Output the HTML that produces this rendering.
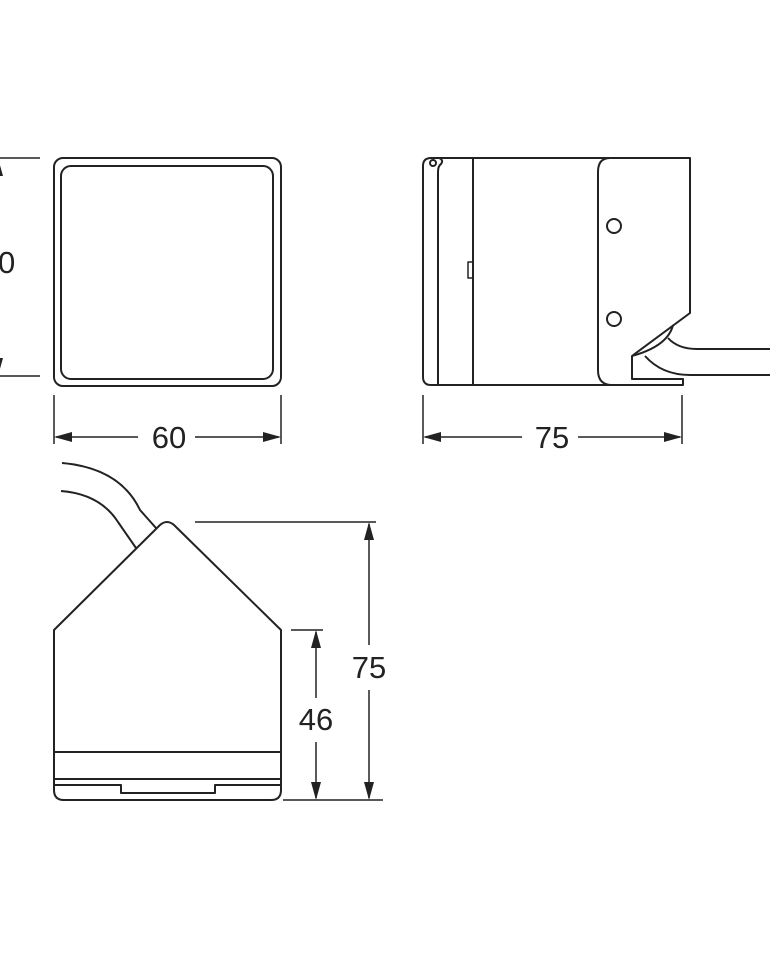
<!DOCTYPE html>
<html><head><style>
html,body{margin:0;padding:0;background:#fff;}
svg{display:block;}
text{font-family:"Liberation Sans",sans-serif;font-size:31px;fill:#222;}
</style></head><body>
<svg width="770" height="960" viewBox="0 0 770 960" xmlns="http://www.w3.org/2000/svg">
<g fill="none" stroke="#222" stroke-width="2" stroke-linejoin="round">
<!-- front view -->
<rect x="54" y="158" width="227" height="228" rx="9"/>
<rect x="61" y="166" width="212" height="213" rx="10"/>
<!-- left dim -->
<line x1="0" y1="158" x2="40" y2="158" stroke-width="1.5"/>
<line x1="0" y1="376" x2="40" y2="376" stroke-width="1.5"/>
<line x1="-2" y1="170" x2="-2" y2="240" stroke-width="1.5"/>
<line x1="-2" y1="285" x2="-2" y2="364" stroke-width="1.5"/>
<!-- 60 dim -->
<line x1="54" y1="395" x2="54" y2="444" stroke-width="1.5"/>
<line x1="281" y1="395" x2="281" y2="444" stroke-width="1.5"/>
<line x1="56" y1="437" x2="138" y2="437" stroke-width="1.5"/>
<line x1="195" y1="437" x2="279" y2="437" stroke-width="1.5"/>
<!-- side view -->
<path d="M431 158 L690 158 L690 313 L632 356 L632 379 L683 379 L683 385 L431 385 Q423 385 423 377 L423 166 Q423 158 431 158 Z"/>
<path d="M438 385 L438 172 Q438 166 441 164 Q444 160 439 158"/>
<circle cx="433" cy="163" r="3"/>
<line x1="473" y1="158" x2="473" y2="385"/>
<rect x="468" y="262" width="5" height="16" stroke-width="1.5"/>
<path d="M610 158 Q598 158 598 172 L598 370 Q598 385 612 385"/>
<circle cx="614" cy="226" r="7"/>
<circle cx="614" cy="319" r="7"/>
<path d="M632 356 Q668 346 673 325"/>
<path d="M668 338 Q678 349 697 349 L770 349"/>
<path d="M645 356 Q662 375 690 375 L770 375"/>
<!-- 75 dim -->
<line x1="423" y1="395" x2="423" y2="444" stroke-width="1.5"/>
<line x1="682" y1="395" x2="682" y2="444" stroke-width="1.5"/>
<line x1="425" y1="437" x2="522" y2="437" stroke-width="1.5"/>
<line x1="578" y1="437" x2="680" y2="437" stroke-width="1.5"/>
<!-- bottom view -->
<path d="M54 630 L160 525 Q167 519 174 525 L281 630 L281 790 Q281 800 271 800 L64 800 Q54 800 54 790 Z"/>
<line x1="54" y1="752" x2="281" y2="752"/>
<line x1="54" y1="779" x2="281" y2="779"/>
<path d="M54 785 L121 785 L121 793 L215 793 L215 785 L281 785"/>
<path d="M62 463 Q120 468 140 510 L156 528"/>
<path d="M61 491 Q100 494 118 522 L136 548"/>
<line x1="195" y1="522" x2="376" y2="522" stroke-width="1.5"/>
<line x1="283" y1="800" x2="383" y2="800" stroke-width="1.5"/>
<line x1="291" y1="630" x2="323" y2="630" stroke-width="1.5"/>
<line x1="369" y1="524" x2="369" y2="645" stroke-width="1.5"/>
<line x1="369" y1="690" x2="369" y2="798" stroke-width="1.5"/>
<line x1="316" y1="632" x2="316" y2="698" stroke-width="1.5"/>
<line x1="316" y1="742" x2="316" y2="798" stroke-width="1.5"/>
</g>
<g fill="#222">
<polygon points="-2,158 -7,176 3,176"/>
<polygon points="-2,376 -7,358 3,358"/>
<polygon points="54,437 72,432 72,442"/>
<polygon points="281,437 263,432 263,442"/>
<polygon points="423,437 441,432 441,442"/>
<polygon points="682,437 664,432 664,442"/>
<polygon points="369,522 364,540 374,540"/>
<polygon points="369,800 364,782 374,782"/>
<polygon points="316,630 311,648 321,648"/>
<polygon points="316,800 311,782 321,782"/>
</g>
<text x="-2" y="273" text-anchor="middle">60</text>
<text x="169" y="448" text-anchor="middle">60</text>
<text x="552" y="448" text-anchor="middle">75</text>
<text x="369" y="678" text-anchor="middle">75</text>
<text x="316" y="730" text-anchor="middle">46</text>
</svg>
</body></html>
